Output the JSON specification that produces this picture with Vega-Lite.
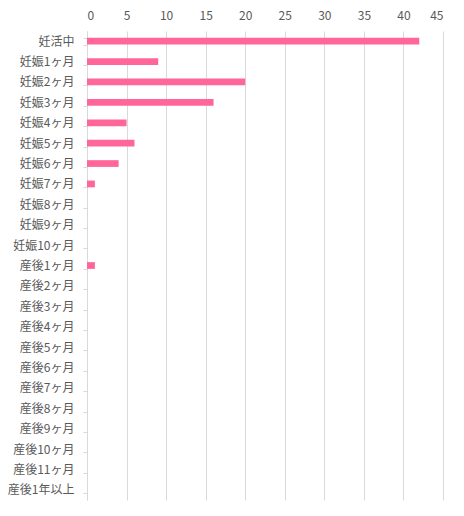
{
  "$schema": "https://vega.github.io/schema/vega-lite/v6.json",
  "width": 356,
  "height": 469,
  "autosize": {"type": "none"},
  "padding": {"left": 87, "top": 31, "right": 21, "bottom": 16},
  "background": "white",
  "config": {
    "view": {"stroke": null},
    "font": "Noto Sans CJK JP"
  },
  "data": {
    "values": [
      {"period": "妊活中", "count": 42},
      {"period": "妊娠1ヶ月", "count": 9},
      {"period": "妊娠2ヶ月", "count": 20},
      {"period": "妊娠3ヶ月", "count": 16},
      {"period": "妊娠4ヶ月", "count": 5},
      {"period": "妊娠5ヶ月", "count": 6},
      {"period": "妊娠6ヶ月", "count": 4},
      {"period": "妊娠7ヶ月", "count": 1},
      {"period": "妊娠8ヶ月", "count": 0},
      {"period": "妊娠9ヶ月", "count": 0},
      {"period": "妊娠10ヶ月", "count": 0},
      {"period": "産後1ヶ月", "count": 1},
      {"period": "産後2ヶ月", "count": 0},
      {"period": "産後3ヶ月", "count": 0},
      {"period": "産後4ヶ月", "count": 0},
      {"period": "産後5ヶ月", "count": 0},
      {"period": "産後6ヶ月", "count": 0},
      {"period": "産後7ヶ月", "count": 0},
      {"period": "産後8ヶ月", "count": 0},
      {"period": "産後9ヶ月", "count": 0},
      {"period": "産後10ヶ月", "count": 0},
      {"period": "産後11ヶ月", "count": 0},
      {"period": "産後1年以上", "count": 0}
    ]
  },
  "mark": {"type": "bar", "color": "#FF6699"},
  "encoding": {
    "y": {
      "field": "period",
      "type": "nominal",
      "sort": null,
      "title": null,
      "scale": {"paddingInner": 0.67, "paddingOuter": 0.335},
      "axis": {
        "domainColor": "#D9D9D9",
        "tickColor": "#D9D9D9",
        "tickSize": 4,
        "tickBand": "extent",
        "labelPadding": 9,
        "labelFontSize": 12,
        "labelColor": "#595959",
        "grid": false
      }
    },
    "x": {
      "field": "count",
      "type": "quantitative",
      "title": null,
      "scale": {"domain": [0, 45], "nice": false},
      "axis": {
        "orient": "top",
        "values": [0, 5, 10, 15, 20, 25, 30, 35, 40, 45],
        "domain": false,
        "ticks": false,
        "grid": true,
        "gridColor": "#D9D9D9",
        "labelPadding": 9,
        "labelFontSize": 12,
        "labelColor": "#595959"
      }
    }
  }
}
